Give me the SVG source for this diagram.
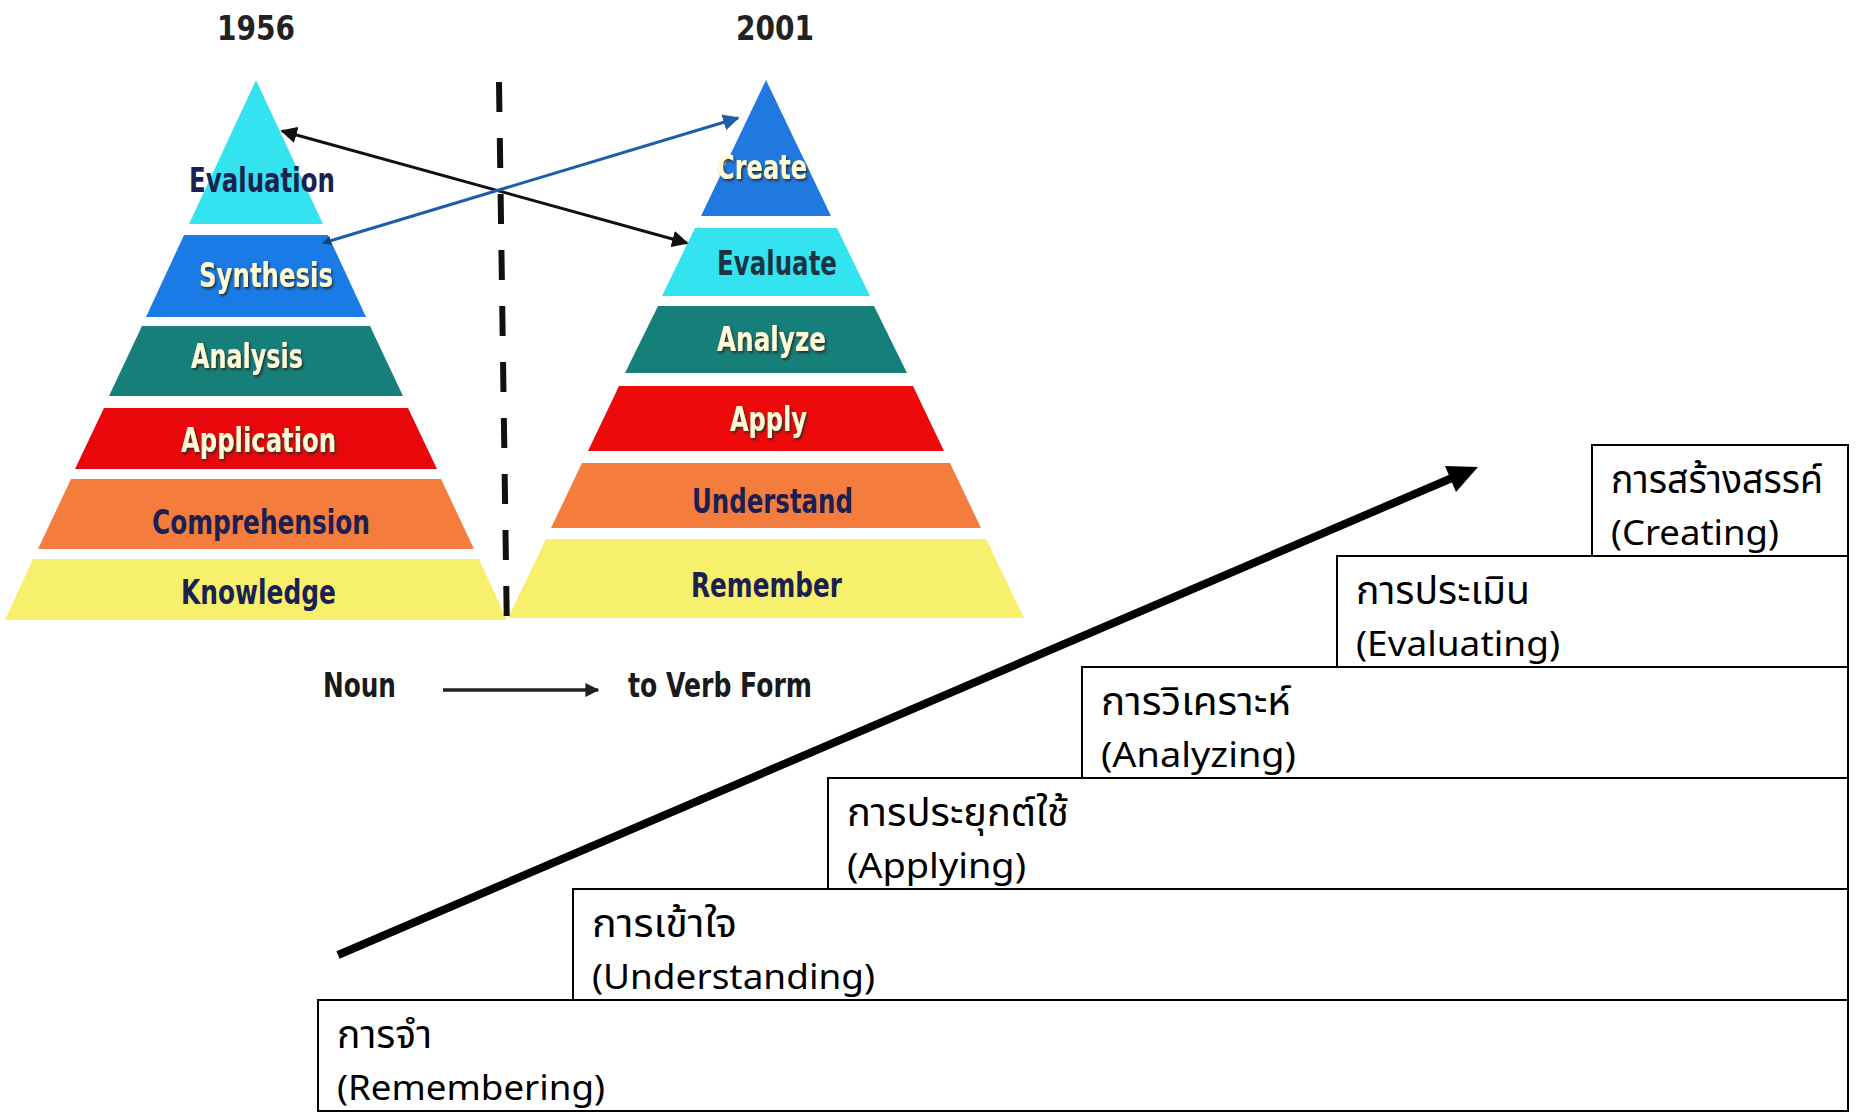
<svg xmlns="http://www.w3.org/2000/svg" width="1860" height="1114" viewBox="0 0 1860 1114">
<style>
.pt{font-family:"DejaVu Sans","Liberation Sans",sans-serif;font-weight:bold;font-size:33px}
.navy{fill:#1c1f52}
.cream{fill:#fffbd6;filter:url(#sh)}
.yr{font-family:"DejaVu Sans","Liberation Sans",sans-serif;font-weight:bold;font-size:34px;fill:#222}
.bx{fill:#fff;stroke:#000;stroke-width:2}
.bt{font-family:"Noto Sans Thai","Noto Sans","DejaVu Sans",sans-serif;font-size:35px;fill:#000}
.th{font-size:40px}
</style>
<defs>
<filter id="sh" x="-10%" y="-20%" width="130%" height="160%">
<feDropShadow dx="1.5" dy="2" stdDeviation="1" flood-color="#2a2a2a" flood-opacity="0.9"/>
</filter>
<marker id="ahk" viewBox="0 0 10 10" refX="9" refY="5" markerWidth="5.5" markerHeight="5.5" orient="auto-start-reverse"><path d="M0,0L10,5L0,10z" fill="#111"/></marker>
<marker id="ahb" viewBox="0 0 10 10" refX="9" refY="5" markerWidth="5.5" markerHeight="5.5" orient="auto-start-reverse"><path d="M0,0L10,5L0,10z" fill="#1f5da8"/></marker>
<marker id="ahbs" viewBox="0 0 10 10" refX="9" refY="5" markerWidth="3" markerHeight="3" orient="auto-start-reverse"><path d="M0,0L10,5L0,10z" fill="#16407a"/></marker>
<marker id="ahs" viewBox="0 0 10 10" refX="9" refY="5" markerWidth="4" markerHeight="4" orient="auto"><path d="M0,0L10,5L0,10z" fill="#222"/></marker>
</defs>
<rect width="1860" height="1114" fill="#fff"/>

<g id="pyramid-1956">
<text class="yr" x="217" y="40" textLength="78" lengthAdjust="spacingAndGlyphs">1956</text>
<g id="evaluation"><polygon points="256,80 323,224 189,224" fill="#33e4f0"/><text class="pt navy" x="189" y="192" textLength="146" lengthAdjust="spacingAndGlyphs">Evaluation</text></g>
<g id="synthesis"><polygon points="184,235 328,235 366,317 146,317" fill="#1a7be6"/><text class="pt cream" x="199" y="287" textLength="134" lengthAdjust="spacingAndGlyphs">Synthesis</text></g>
<g id="analysis"><polygon points="142,326 370,326 403,396 109,396" fill="#167f79"/><text class="pt cream" x="191" y="368" textLength="112" lengthAdjust="spacingAndGlyphs">Analysis</text></g>
<g id="application"><polygon points="104,408 408,408 437,469 75,469" fill="#e8080b"/><text class="pt cream" x="181" y="452" textLength="155" lengthAdjust="spacingAndGlyphs">Application</text></g>
<g id="comprehension"><polygon points="71,479 441,479 474,549 38,549" fill="#f47d3d"/><text class="pt navy" x="152" y="534" textLength="218" lengthAdjust="spacingAndGlyphs">Comprehension</text></g>
<g id="knowledge"><polygon points="33,559 479,559 507,620 5,620" fill="#f7f06c"/><text class="pt navy" x="181" y="604" textLength="155" lengthAdjust="spacingAndGlyphs">Knowledge</text></g>
</g>

<g id="pyramid-2001">
<text class="yr" x="736" y="40" textLength="78" lengthAdjust="spacingAndGlyphs">2001</text>
<g id="create"><polygon points="766,80 831,216 701,216" fill="#1f79de"/><text class="pt cream" x="717" y="179" textLength="90" lengthAdjust="spacingAndGlyphs">Create</text></g>
<g id="evaluate"><polygon points="695,228 837,228 870,296 662,296" fill="#33e4f0"/><text class="pt" fill="#1c3442" x="717" y="275" textLength="120" lengthAdjust="spacingAndGlyphs">Evaluate</text></g>
<g id="analyze"><polygon points="658,306 874,306 907,373 625,373" fill="#167f79"/><text class="pt cream" x="717" y="351" textLength="109" lengthAdjust="spacingAndGlyphs">Analyze</text></g>
<g id="apply"><polygon points="619,386 913,386 944,451 588,451" fill="#ee0a0a"/><text class="pt cream" x="730" y="431" textLength="77" lengthAdjust="spacingAndGlyphs">Apply</text></g>
<g id="understand"><polygon points="582,463 950,463 981,528 551,528" fill="#f47d3d"/><text class="pt navy" x="692" y="513" textLength="161" lengthAdjust="spacingAndGlyphs">Understand</text></g>
<g id="remember"><polygon points="546,539 986,539 1024,618 508,618" fill="#f7f06c"/><text class="pt navy" x="691" y="597" textLength="151" lengthAdjust="spacingAndGlyphs">Remember</text></g>
</g>

<g id="legend">
<text class="pt" fill="#1a1a1a" x="323" y="697" textLength="73" lengthAdjust="spacingAndGlyphs">Noun</text>
<text class="pt" fill="#1a1a1a" x="628" y="697" textLength="184" lengthAdjust="spacingAndGlyphs">to Verb Form</text>
</g>

<g id="steps">
<g id="remembering"><rect class="bx" x="318" y="1000" width="1530" height="111"/><text class="bt th" x="337" y="1048" textLength="95" lengthAdjust="spacingAndGlyphs">การจำ</text><text class="bt" x="337" y="1100" textLength="268" lengthAdjust="spacingAndGlyphs">(Remembering)</text></g>
<g id="understanding"><rect class="bx" x="573" y="889" width="1275" height="111"/><text class="bt th" x="592" y="937" textLength="145" lengthAdjust="spacingAndGlyphs">การเข้าใจ</text><text class="bt" x="592" y="989" textLength="283" lengthAdjust="spacingAndGlyphs">(Understanding)</text></g>
<g id="applying"><rect class="bx" x="828" y="778" width="1020" height="111"/><text class="bt th" x="847" y="826" textLength="222" lengthAdjust="spacingAndGlyphs">การประยุกต์ใช้</text><text class="bt" x="847" y="878" textLength="179" lengthAdjust="spacingAndGlyphs">(Applying)</text></g>
<g id="analyzing"><rect class="bx" x="1082" y="667" width="766" height="111"/><text class="bt th" x="1101" y="715" textLength="190" lengthAdjust="spacingAndGlyphs">การวิเคราะห์</text><text class="bt" x="1101" y="767" textLength="195" lengthAdjust="spacingAndGlyphs">(Analyzing)</text></g>
<g id="evaluating"><rect class="bx" x="1337" y="556" width="511" height="111"/><text class="bt th" x="1356" y="604" textLength="174" lengthAdjust="spacingAndGlyphs">การประเมิน</text><text class="bt" x="1356" y="656" textLength="204" lengthAdjust="spacingAndGlyphs">(Evaluating)</text></g>
<g id="creating"><rect class="bx" x="1592" y="445" width="256" height="111"/><text class="bt th" x="1611" y="493" textLength="212" lengthAdjust="spacingAndGlyphs">การสร้างสรรค์</text><text class="bt" x="1611" y="545" textLength="168" lengthAdjust="spacingAndGlyphs">(Creating)</text></g>
</g>

<g id="connectors" fill="none">
<line x1="499" y1="82" x2="507" y2="636" stroke="#111" stroke-width="6" stroke-dasharray="30 26"/>
<line x1="282" y1="131" x2="687" y2="243" stroke="#111" stroke-width="3" marker-start="url(#ahk)" marker-end="url(#ahk)"/>
<line x1="323" y1="243" x2="738" y2="118" stroke="#1f5da8" stroke-width="3" marker-start="url(#ahbs)" marker-end="url(#ahb)"/>
<line x1="443" y1="690" x2="598" y2="690" stroke="#222" stroke-width="3.5" marker-end="url(#ahs)"/>
<line x1="338" y1="955" x2="1452" y2="478" stroke="#000" stroke-width="8"/>
<polygon points="1478,467 1445,466 1456,492" fill="#000"/>
</g>
</svg>
